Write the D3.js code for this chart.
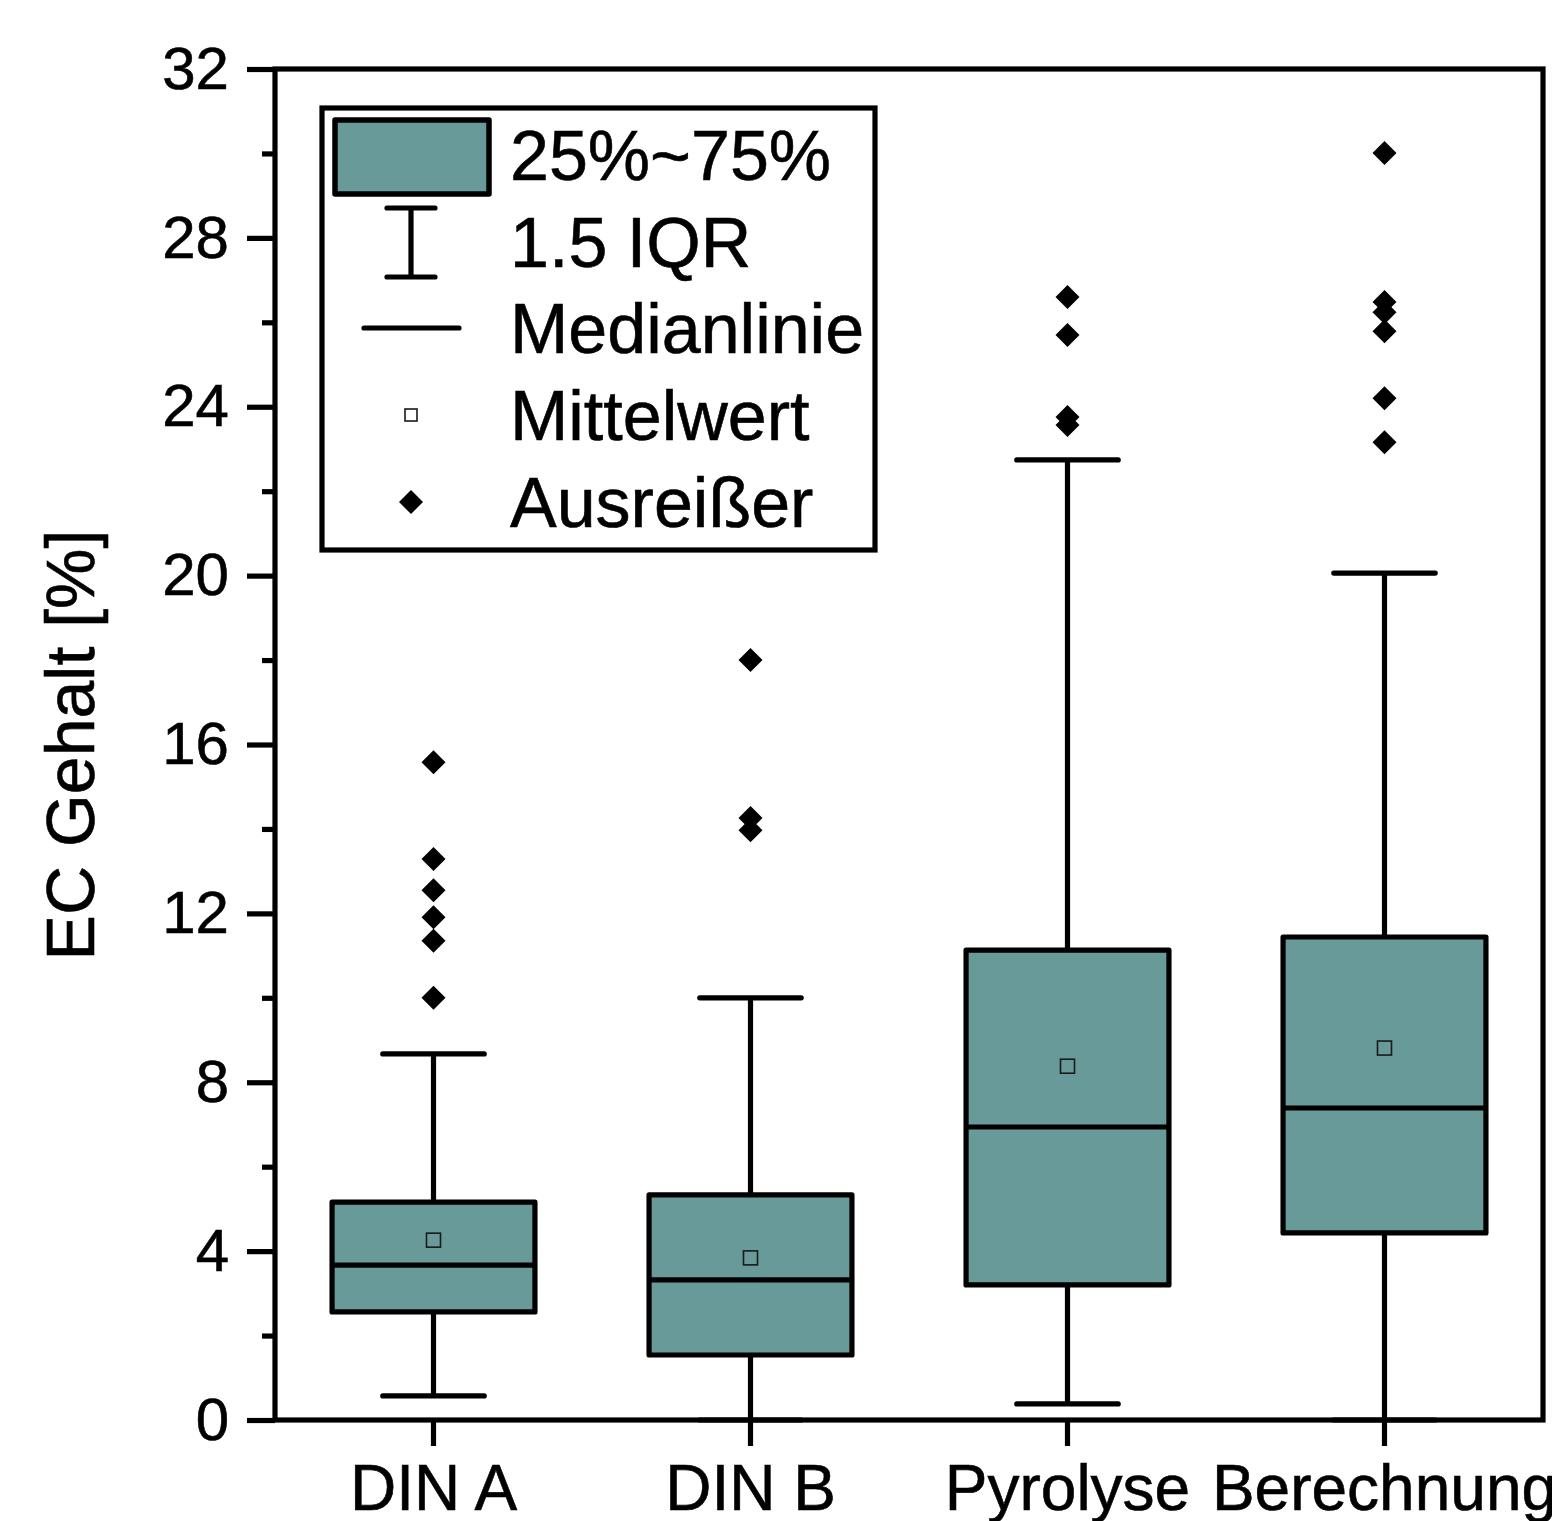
<!DOCTYPE html>
<html>
<head>
<meta charset="utf-8">
<script src="https://cdn.jsdelivr.net/npm/d3@7"></script>
<style>
  body { margin: 0; background: #fff; }
  svg { display: block; font-family: "Liberation Sans", Arial, sans-serif; }
</style>
</head>
<body>
<div id="chart"></div>
<script>
/*
------------------------------
DATA: values
------------------------------
*/
const categories = ["DIN A", "DIN B", "Pyrolyse", "Berechnung"];
const q1 = [2.56, 1.54, 3.20, 4.43];
const medians = [3.67, 3.32, 6.94, 7.39];
const q3 = [5.16, 5.33, 11.13, 11.44];
const whiskerLow = [0.57, 0, 0.38, 0];
const whiskerHigh = [8.67, 10.0, 22.74, 20.06];
const means = [4.26, 3.84, 8.38, 8.81];
const outliers = [
    [15.58, 13.29, 12.55, 11.91, 11.35, 10.0],
    [18.0, 14.26, 13.97],
    [26.6, 25.7, 23.76, 23.57],
    [30.01, 26.48, 26.24, 25.79, 24.2, 23.16]
];
const majorTicks = [0, 4, 8, 12, 16, 20, 24, 28, 32];
const minorTicks = [2, 6, 10, 14, 18, 22, 26, 30];
const legendLabels = ["25%~75%", "1.5 IQR", "Medianlinie", "Mittelwert", "Ausreißer"];

/*
------------------------------
METHOD: sizes and scales
------------------------------
*/
let margin = { top: 69, right: 9, bottom: 101, left: 275 };
let width = 1552 - margin.left - margin.right;
let height = 1521 - margin.top - margin.bottom;
const fillColor = "#689a99";
const lineW = 5.2;
const fontStack = "Liberation Sans, Arial, sans-serif";

const svg = d3.select("#chart")
    .append("svg")
    .attr("width", 1552)
    .attr("height", 1521);

const g = svg.append("g")
    .attr("transform", "translate(" + margin.left + "," + margin.top + ")");

const x = d3.scaleBand().domain(categories).range([0, width]);
const y = d3.scaleLinear().domain([0, 32]).range([height, 0]);
const boxW = x.bandwidth() * 0.64;
const cx = (i) => x(categories[i]) + x.bandwidth() / 2;

const rows = categories.map((c, i) => ({ i: i }));

/*
------------------------------
METHOD: whiskers, boxes, medians, means, outliers
------------------------------
*/
// whisker stems
g.selectAll(".stem")
    .data(rows)
    .join("line")
    .attr("x1", d => cx(d.i)).attr("x2", d => cx(d.i))
    .attr("y1", d => y(whiskerLow[d.i])).attr("y2", d => y(whiskerHigh[d.i]))
    .attr("stroke", "black").attr("stroke-width", lineW);

// whisker caps
[whiskerLow, whiskerHigh].forEach((arr) => {
    g.append("g").selectAll("line")
        .data(rows)
        .join("line")
        .attr("x1", d => cx(d.i) - boxW / 4).attr("x2", d => cx(d.i) + boxW / 4)
        .attr("y1", d => y(arr[d.i])).attr("y2", d => y(arr[d.i]))
        .attr("stroke", "black").attr("stroke-width", lineW)
        .attr("stroke-linecap", "round");
});

// boxes
g.selectAll(".box")
    .data(rows)
    .join("rect")
    .attr("x", d => cx(d.i) - boxW / 2)
    .attr("width", boxW)
    .attr("y", d => y(q3[d.i]))
    .attr("height", d => y(q1[d.i]) - y(q3[d.i]))
    .attr("fill", fillColor)
    .attr("stroke", "black").attr("stroke-width", lineW)
    .attr("stroke-linejoin", "round");

// medians
g.selectAll(".median")
    .data(rows)
    .join("line")
    .attr("x1", d => cx(d.i) - boxW / 2).attr("x2", d => cx(d.i) + boxW / 2)
    .attr("y1", d => y(medians[d.i])).attr("y2", d => y(medians[d.i]))
    .attr("stroke", "black").attr("stroke-width", lineW);

// means
g.selectAll(".mean")
    .data(rows)
    .join("rect")
    .attr("x", d => cx(d.i) - 7).attr("y", d => y(means[d.i]) - 7)
    .attr("width", 14).attr("height", 14)
    .attr("fill", "none").attr("stroke", "#1a1a1a").attr("stroke-width", 1.6);

// outliers
const diamond = "M0,-12L12,0L0,12L-12,0Z";
const outPts = [];
outliers.forEach((arr, i) => arr.forEach(v => outPts.push({ i: i, v: v })));
g.selectAll(".outlier")
    .data(outPts)
    .join("path")
    .attr("d", diamond)
    .attr("transform", d => "translate(" + cx(d.i) + "," + y(d.v) + ")")
    .attr("fill", "black");

/*
------------------------------
METHOD: axes and frame
------------------------------
*/
g.append("rect")
    .attr("x", 0).attr("y", 0)
    .attr("width", width).attr("height", height)
    .attr("fill", "none").attr("stroke", "black").attr("stroke-width", lineW);

const yAxis = g.append("g")
    .call(d3.axisLeft(y).tickValues(majorTicks).tickSize(28).tickPadding(18).tickFormat(d3.format("d")));
yAxis.select(".domain").remove();
yAxis.selectAll("line").attr("stroke-width", lineW);
yAxis.selectAll("text").attr("font-size", 60).attr("fill", "black")
    .attr("font-family", fontStack)
    .attr("stroke", "black").attr("stroke-width", 0.6);

const yMinor = g.append("g")
    .call(d3.axisLeft(y).tickValues(minorTicks).tickSize(13).tickFormat(""));
yMinor.select(".domain").remove();
yMinor.selectAll("line").attr("stroke-width", lineW);

const xAxis = g.append("g")
    .attr("transform", "translate(0," + height + ")")
    .call(d3.axisBottom(x).tickSize(26));
xAxis.select(".domain").remove();
xAxis.selectAll("line").attr("stroke-width", lineW);
xAxis.selectAll("text")
    .attr("y", 90).attr("dy", 0)
    .attr("font-size", 64).attr("fill", "black")
    .attr("font-family", fontStack)
    .attr("stroke", "black").attr("stroke-width", 0.6);

// y axis title
svg.append("text")
    .attr("transform", "translate(94,745) rotate(-90)")
    .attr("text-anchor", "middle")
    .attr("font-size", 68)
    .attr("stroke", "black").attr("stroke-width", 0.6)
    .text("EC Gehalt [%]");

/*
------------------------------
METHOD: legend
------------------------------
*/
const leg = svg.append("g").attr("transform", "translate(322,108)");
leg.append("rect")
    .attr("x", 0).attr("y", 0).attr("width", 553).attr("height", 442)
    .attr("fill", "white").attr("stroke", "black").attr("stroke-width", lineW);

const rowY = [47, 134, 220, 307, 394];
const symX = 89;

leg.append("rect")
    .attr("x", 13).attr("y", 12).attr("width", 154).attr("height", 74)
    .attr("fill", fillColor).attr("stroke", "black").attr("stroke-width", 5.5)
    .attr("stroke-linejoin", "round");

leg.append("line").attr("x1", symX).attr("x2", symX).attr("y1", 100).attr("y2", 169)
    .attr("stroke", "black").attr("stroke-width", lineW);
[100, 169].forEach(yy => {
    leg.append("line").attr("x1", symX - 24).attr("x2", symX + 24).attr("y1", yy).attr("y2", yy)
        .attr("stroke", "black").attr("stroke-width", lineW).attr("stroke-linecap", "round");
});

leg.append("line").attr("x1", 42).attr("x2", 137).attr("y1", 220).attr("y2", 220)
    .attr("stroke", "black").attr("stroke-width", lineW).attr("stroke-linecap", "round");

leg.append("rect").attr("x", symX - 6).attr("y", 301).attr("width", 12).attr("height", 12)
    .attr("fill", "white").attr("stroke", "#1a1a1a").attr("stroke-width", 1.6);

leg.append("path").attr("d", diamond).attr("transform", "translate(" + symX + ",394)").attr("fill", "black");

leg.selectAll(".lbl")
    .data(legendLabels)
    .join("text")
    .attr("x", 188)
    .attr("y", (d, i) => rowY[i] + 25)
    .attr("font-size", 70)
    .attr("stroke", "black").attr("stroke-width", 0.6)
    .text(d => d);
</script>
</body>
</html>
